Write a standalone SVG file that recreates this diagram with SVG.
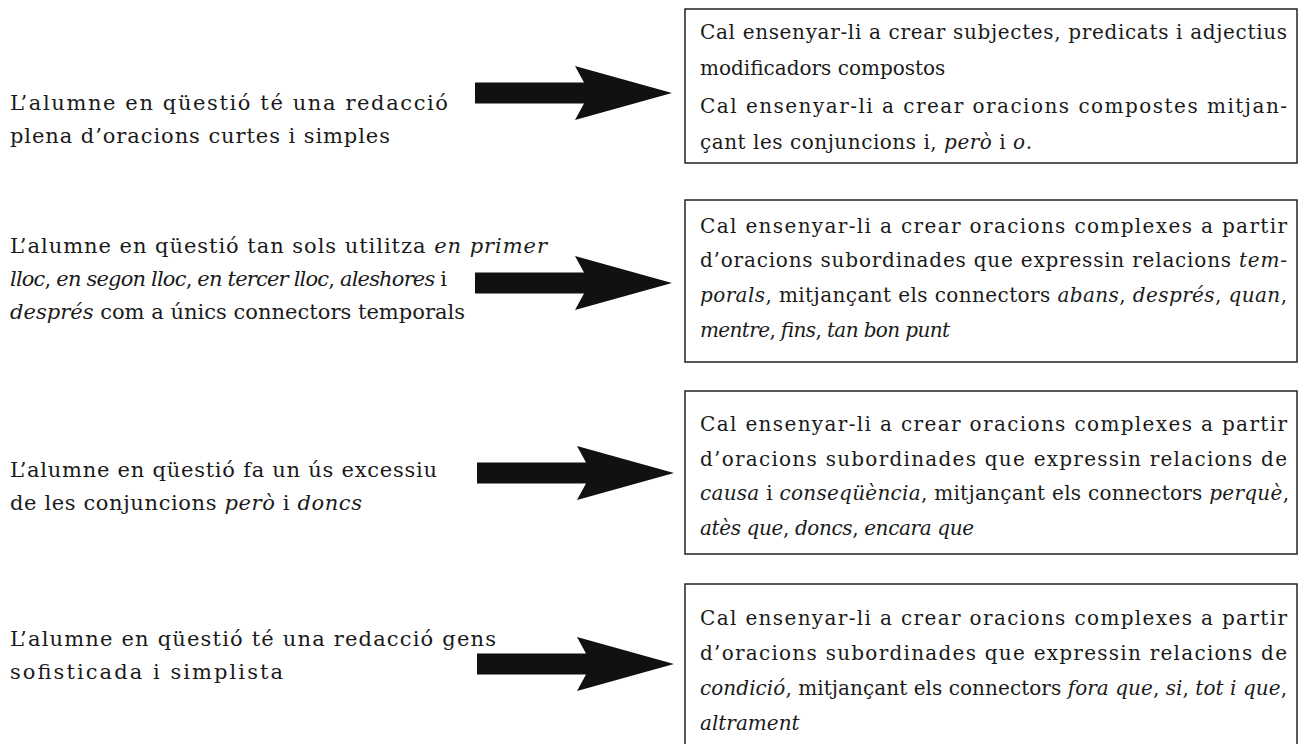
<svg xmlns="http://www.w3.org/2000/svg" width="1304" height="744" viewBox="0 0 1304 744">
<style>
text{font-family:"DejaVu Serif","Liberation Serif",serif;font-size:20px;fill:#1a1a1a}
.l{font-size:21px}
.i{font-style:italic}
.box{fill:#fff;stroke:#222;stroke-width:1.5}
.arrow{fill:#111}
</style>
<defs>
<path id="arr" d="M0,-10.5 H109 L100,-27 L197,0 L100,27 L109,10.5 H0 Z"/>
</defs>
<rect width="1304" height="744" fill="#fff"/>
<g id="connectors">
<use href="#arr" class="arrow" x="475" y="93"/>
<use href="#arr" class="arrow" x="475" y="283"/>
<use href="#arr" class="arrow" x="477" y="473"/>
<use href="#arr" class="arrow" x="477" y="664"/>
</g>
<g id="problem1">
<text class="l" x="10" y="110" textLength="438" lengthAdjust="spacing">L’alumne en qüestió té una redacció</text>
<text class="l" x="10" y="143" textLength="380" lengthAdjust="spacing">plena d’oracions curtes i simples</text>
</g>
<g id="problem2">
<text class="l" x="10" y="253" textLength="537" lengthAdjust="spacing">L’alumne en qüestió tan sols utilitza <tspan class="i">en primer</tspan></text>
<text class="l" x="10" y="286" textLength="437" lengthAdjust="spacing"><tspan class="i">lloc</tspan>, <tspan class="i">en segon lloc</tspan>, <tspan class="i">en tercer lloc</tspan>, <tspan class="i">aleshores</tspan> i</text>
<text class="l" x="10" y="319" textLength="455" lengthAdjust="spacing"><tspan class="i">després</tspan> com a únics connectors temporals</text>
</g>
<g id="problem3">
<text class="l" x="10" y="477" textLength="427" lengthAdjust="spacing">L’alumne en qüestió fa un ús excessiu</text>
<text class="l" x="10" y="510" textLength="352" lengthAdjust="spacing">de les conjuncions <tspan class="i">però</tspan> i <tspan class="i">doncs</tspan></text>
</g>
<g id="problem4">
<text class="l" x="10" y="646" textLength="486" lengthAdjust="spacing">L’alumne en qüestió té una redacció gens</text>
<text class="l" x="10" y="679" textLength="273" lengthAdjust="spacing">sofisticada i simplista</text>
</g>
<g id="solution1">
<rect class="box" x="685" y="9" width="612" height="154"/>
<text x="700" y="39" textLength="587" lengthAdjust="spacing">Cal ensenyar-li a crear subjectes, predicats i adjectius</text>
<text x="700" y="75">modificadors compostos</text>
<text x="700" y="113" textLength="587" lengthAdjust="spacing">Cal ensenyar-li a crear oracions compostes mitjan-</text>
<text x="700" y="149" textLength="332" lengthAdjust="spacing">çant les conjuncions i, <tspan class="i">però</tspan> i <tspan class="i">o</tspan>.</text>
</g>
<g id="solution2">
<rect class="box" x="685" y="200" width="612" height="162"/>
<text x="700" y="233" textLength="587" lengthAdjust="spacing">Cal ensenyar-li a crear oracions complexes a partir</text>
<text x="700" y="267" textLength="587" lengthAdjust="spacing">d’oracions subordinades que expressin relacions <tspan class="i">tem-</tspan></text>
<text x="700" y="302" textLength="587" lengthAdjust="spacing"><tspan class="i">porals</tspan>, mitjançant els connectors <tspan class="i">abans</tspan>, <tspan class="i">després</tspan>, <tspan class="i">quan</tspan>,</text>
<text x="700" y="337" textLength="250" lengthAdjust="spacing"><tspan class="i">mentre</tspan>, <tspan class="i">fins</tspan>, <tspan class="i">tan bon punt</tspan></text>
</g>
<g id="solution3">
<rect class="box" x="685" y="391" width="612" height="163"/>
<text x="700" y="431" textLength="587" lengthAdjust="spacing">Cal ensenyar-li a crear oracions complexes a partir</text>
<text x="700" y="466" textLength="587" lengthAdjust="spacing">d’oracions subordinades que expressin relacions de</text>
<text x="700" y="500" textLength="589" lengthAdjust="spacing"><tspan class="i">causa</tspan> i <tspan class="i">conseqüència</tspan>, mitjançant els connectors <tspan class="i">perquè</tspan>,</text>
<text x="700" y="535" textLength="274" lengthAdjust="spacing"><tspan class="i">atès que</tspan>, <tspan class="i">doncs</tspan>, <tspan class="i">encara que</tspan></text>
</g>
<g id="solution4">
<rect class="box" x="685" y="584" width="612" height="180"/>
<text x="700" y="625" textLength="587" lengthAdjust="spacing">Cal ensenyar-li a crear oracions complexes a partir</text>
<text x="700" y="660" textLength="587" lengthAdjust="spacing">d’oracions subordinades que expressin relacions de</text>
<text x="700" y="695" textLength="587" lengthAdjust="spacing"><tspan class="i">condició</tspan>, mitjançant els connectors <tspan class="i">fora que</tspan>, <tspan class="i">si</tspan>, <tspan class="i">tot i que</tspan>,</text>
<text x="700" y="730"><tspan class="i">altrament</tspan></text>
</g>
</svg>
